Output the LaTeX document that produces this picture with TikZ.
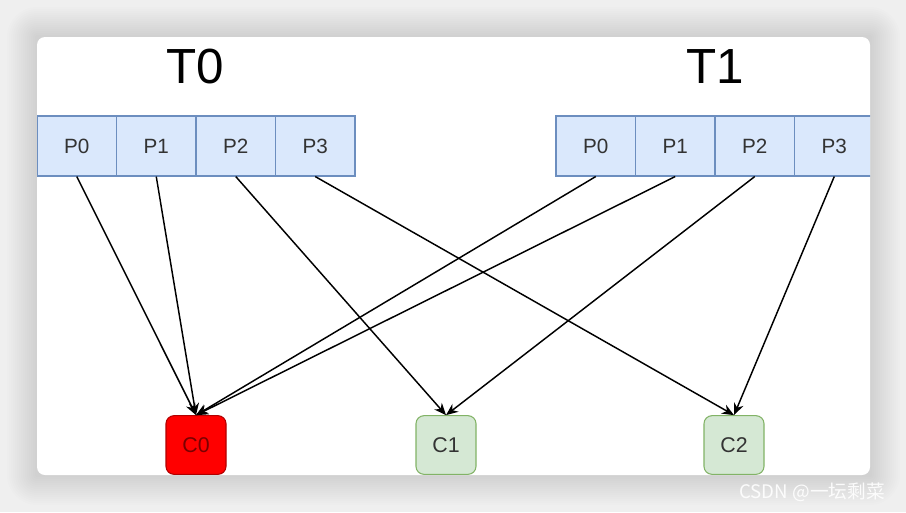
\documentclass[tikz,border=0pt]{standalone}
\usepackage{fontspec}
\setmainfont{Liberation Sans}
\newfontfamily\cjk{Noto Sans CJK SC}
\usetikzlibrary{arrows.meta,calc,positioning}
\definecolor{partfill}{HTML}{DAE8FC}
\definecolor{partline}{HTML}{6C8EBF}
\definecolor{okfill}{HTML}{D5E8D4}
\definecolor{okline}{HTML}{82B366}
\definecolor{hotline}{HTML}{B20000}
\definecolor{hottext}{HTML}{7A0000}
\definecolor{bgray}{HTML}{EFEFEF}

\begin{document}
\begin{tikzpicture}[x=0.75pt,y=-0.75pt,
    part/.style={draw=partline,fill=partfill,line width=0.8pt,minimum width=59.6pt,minimum height=45pt,inner sep=0pt,font=\fontsize{15.5}{18}\selectfont,text=black!80},
    cons/.style={draw=okline,fill=okfill,rounded corners=6pt,line width=0.8pt,minimum width=45pt,minimum height=44pt,inner sep=0pt,font=\fontsize{16}{18}\selectfont,text=black!80},
    topic/.style={font=\fontsize{37}{42}\selectfont},
    flow/.style={-{Stealth[length=9pt,width=7.5pt]},line width=1.1pt}]
    \useasboundingbox (0,0) rectangle (906,512);
    \fill[bgray] (0,0) rectangle (906,512);
    % soft shadow round the card
    \foreach \s in {2,4,...,30}{
        \fill[black,opacity=0.009,rounded corners=\s*0.75pt] (37-\s,37-\s) rectangle (870+\s,475+\s);}
    \fill[white,rounded corners=6pt] (37,37) rectangle (870,475);
    \begin{scope}
        \clip[rounded corners=6pt] (37,37) rectangle (870,475);
        \node[topic] (t0) at (195,67) {T0};
        \node[topic] (t1) at (715,67) {T1};
        \foreach \i in {0,...,3}{
            \node[part] (a\i) at ({76.75+79.5*\i},146) {P\i};
            \node[part] (b\i) at ({595.75+79.5*\i},146) {P\i};}
        \node[cons,draw=hotline,fill=red,text=hottext] (c0) at (196,445) {C0};
        \node[cons] (c1) at (446,445) {C1};
        \node[cons] (c2) at (734,445) {C2};
        % partitions -> consumers
        \draw[flow] (a0.south) -- (c0.north);
        \draw[flow] (a1.south) -- (c0.north);
        \draw[flow] (a2.south) -- (c1.north);
        \draw[flow] (a3.south) -- (c2.north);
        \draw[flow] (b0.south) -- (c0.north);
        \draw[flow] (b1.south) -- (c0.north);
        \draw[flow] (b2.south) -- (c1.north);
        \draw[flow] (b3.south) -- (c2.north);
    \end{scope}
    \node[text=white,opacity=0.9,font=\cjk\fontsize{14}{16}\selectfont] (mark) at (812,492) {CSDN @一坛剩菜};
\end{tikzpicture}
\end{document}
